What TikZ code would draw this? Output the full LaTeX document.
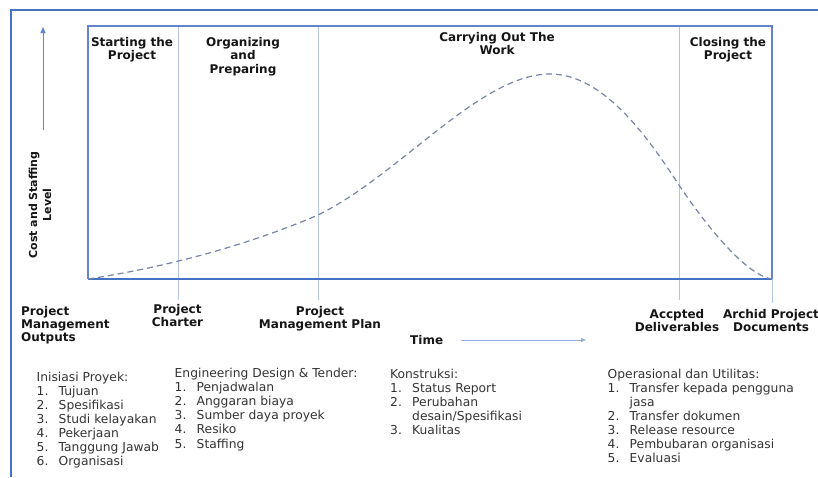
\documentclass[tikz,border=0pt]{standalone}
\usepackage{fontspec}
\setmainfont{DejaVu Sans}
\usetikzlibrary{arrows.meta}
\definecolor{frameblue}{HTML}{4472C4}
\definecolor{boxblue}{HTML}{6485CC}
\definecolor{divblue}{HTML}{B4C6E7}
\definecolor{curvecol}{HTML}{7884A6}
\definecolor{listtext}{HTML}{333333}
\definecolor{hdrtext}{HTML}{151515}
\begin{document}
\begin{tikzpicture}[x=1pt,y=-1pt,
  hdr/.style={font=\fontsize{12}{13.3}\selectfont\bfseries, align=center, anchor=base, inner sep=0pt, text=hdrtext},
  hdrl/.style={hdr, align=left, anchor=base west},
  lst/.style={font=\fontsize{12.3}{14.1}\selectfont, anchor=base west, inner sep=0pt, text=listtext},
  divider/.style={divblue, line width=1pt},
  boxline/.style={boxblue, line width=1.4pt},
  axisarrow/.style={line width=0.9pt, -{Triangle[length=6pt,width=5pt]}}]
\useasboundingbox (0,0) rectangle (818,477);
% outer frame
\draw[frameblue, line width=1.2pt] (11,477) -- (11,10) -- (818,10);
% dividers
\foreach \x in {178,318,679} \draw[divider] (\x,26) -- (\x,300);
\draw[divider] (772,279) -- (772,303);
% inner box
\draw[boxline] (88,279) -- (88,26) -- (772,26) -- (772,279);
\draw[frameblue, line width=2pt] (88,279) -- (772,279);
% curve
\draw[curvecol, line width=1.2pt, dash pattern=on 6pt off 4pt]
  (88,279) .. controls (180,265) and (260,240) .. (318,215)
  .. controls (400,175) and (480,74) .. (550,74)
  .. controls (605,74) and (650,141) .. (679,185)
  .. controls (704,222.5) and (745,275) .. (772,279);
% y axis
\coordinate (ya0) at (43,130);
\coordinate (ya1) at (43,27);
\draw[axisarrow, frameblue!85] (ya0) -- (ya1);
\node[hdr, anchor=center, rotate=90, font=\fontsize{11}{14}\selectfont\bfseries] (ylab) at (40,205) {Cost and Staffing\\Level};
% phase headers
\node[hdr] (h1) at (132,59.8) {Starting the\\Project};
\node[hdr] (h2) at (243,73.1) {Organizing\\and\\Preparing};
\node[hdr] (h3) at (497,54.8) {Carrying Out The\\Work};
\node[hdr] (h4) at (728,59.8) {Closing the\\Project};
% outputs
\node[hdrl] (o0) at (21,341.6) {Project\\Management\\Outputs};
\node[hdr] (o1) at (177.5,326.6) {Project\\Charter};
\node[hdr] (o2) at (320,328.3) {Project\\Management Plan};
\node[hdr] (o3) at (677,331.3) {Accpted\\Deliverables};
\node[hdr] (o4) at (771,331.3) {Archid Project\\Documents};
% time
\node[hdr, anchor=base west] (time) at (410,344) {Time};
\coordinate (tend) at (586,340);
\draw[axisarrow, line width=0.8pt, divblue!70!frameblue, -{Triangle[length=5pt,width=4pt]}] (461,340) -- (tend);
% lists
\node[lst] (l1) at (36.5,381) {\begin{tabular}[t]{@{}p{22pt}@{}l@{}}
\multicolumn{2}{@{}l@{}}{Inisiasi Proyek:}\\
1. & Tujuan\\
2. & Spesifikasi\\
3. & Studi kelayakan\\
4. & Pekerjaan\\
5. & Tanggung Jawab\\
6. & Organisasi
\end{tabular}};
\node[lst] (l2) at (174.5,377.5) {\begin{tabular}[t]{@{}p{22pt}@{}l@{}}
\multicolumn{2}{@{}l@{}}{Engineering Design \& Tender:}\\
1. & Penjadwalan\\
2. & Anggaran biaya\\
3. & Sumber daya proyek\\
4. & Resiko\\
5. & Staffing
\end{tabular}};
\node[lst] (l3) at (390,378.5) {\begin{tabular}[t]{@{}p{22pt}@{}l@{}}
\multicolumn{2}{@{}l@{}}{Konstruksi:}\\
1. & Status Report\\
2. & Perubahan\\
 & desain/Spesifikasi\\
3. & Kualitas
\end{tabular}};
\node[lst] (l4) at (607.5,378) {\begin{tabular}[t]{@{}p{22pt}@{}l@{}}
\multicolumn{2}{@{}l@{}}{Operasional dan Utilitas:}\\
1. & Transfer kepada pengguna\\
 & jasa\\
2. & Transfer dokumen\\
3. & Release resource\\
4. & Pembubaran organisasi\\
5. & Evaluasi
\end{tabular}};
\end{tikzpicture}
\end{document}
